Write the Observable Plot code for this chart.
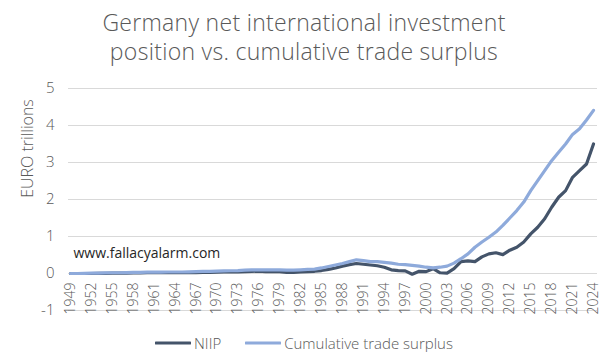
<!DOCTYPE html>
<html>
<head>
<meta charset="utf-8">
<script src="https://cdn.jsdelivr.net/npm/d3@7"></script>
<script src="https://cdn.jsdelivr.net/npm/@observablehq/plot@0.6"></script>
<style>
  html, body { margin: 0; padding: 0; background: #fff; }
  #wrap { width: 608px; height: 364px; position: relative; font-family: "Open Sans", sans-serif; }
  #title { height: 70px; text-align: center; color: #595959; font-weight: 300; font-size: 23px; letter-spacing: 0.3px; line-height: 29px; padding-top: 8px; box-sizing: border-box; white-space: nowrap; }
  #legend { display: flex; justify-content: center; align-items: center; color: #595959; font-size: 15px; font-weight: 300; height: 26px; margin-top: 0px; }
  #legend .item { display: flex; align-items: center; margin: 0 12px; }
  #legend svg { margin-right: 3px; }
</style>
</head>
<body>
<div id="wrap">
  <div id="title">Germany net international investment<br>position vs. cumulative trade surplus</div>
  <div id="chart"></div>
  <div id="legend"></div>
</div>
<script>
const years = d3.range(1949, 2025);
const niip = [
  0, 0, 0, 0, 0.005, 0.005, 0.01, 0.01, 0.01, 0.015,
  0.015, 0.02, 0.02, 0.02, 0.02, 0.02, 0.02, 0.02, 0.025, 0.03,
  0.03, 0.035, 0.04, 0.04, 0.045, 0.05, 0.055, 0.065, 0.05, 0.06,
  0.05, 0.03, 0.03, 0.04, 0.05, 0.06, 0.08, 0.11, 0.15, 0.20,
  0.24, 0.27, 0.25, 0.23, 0.21, 0.17, 0.10, 0.08, 0.07, -0.02,
  0.06, 0.05, 0.13, 0.02, 0.01, 0.13, 0.32, 0.34, 0.32, 0.45,
  0.53, 0.56, 0.51, 0.63, 0.71, 0.85, 1.07, 1.25, 1.48, 1.79,
  2.06, 2.24, 2.60, 2.78, 2.96, 3.50
];
const cumTrade = [
  0, 0, 0.005, 0.01, 0.01, 0.015, 0.02, 0.02, 0.025, 0.03,
  0.03, 0.035, 0.035, 0.035, 0.04, 0.04, 0.04, 0.045, 0.05, 0.055,
  0.06, 0.065, 0.07, 0.075, 0.08, 0.09, 0.10, 0.10, 0.10, 0.10,
  0.10, 0.09, 0.09, 0.10, 0.11, 0.12, 0.15, 0.19, 0.23, 0.27,
  0.32, 0.37, 0.35, 0.32, 0.32, 0.30, 0.28, 0.25, 0.24, 0.22,
  0.20, 0.17, 0.15, 0.17, 0.20, 0.28, 0.40, 0.53, 0.71, 0.85,
  0.98, 1.12, 1.30, 1.50, 1.70, 1.93, 2.24, 2.51, 2.78, 3.05,
  3.28, 3.50, 3.76, 3.91, 4.15, 4.41
];
const seriesNames = ["NIIP", "Cumulative trade surplus"];
const seriesColors = ["#44546a", "#8eaadb"];
const yTicks = [-1, 0, 1, 2, 3, 4, 5];
const xTicks = d3.range(1949, 2025, 3);
const yLabel = "EURO trillions";
const watermark = "www.fallacyalarm.com";

const rows = [];
years.forEach((yr, i) => {
  rows.push({year: yr, value: niip[i], series: seriesNames[0]});
  rows.push({year: yr, value: cumTrade[i], series: seriesNames[1]});
});

const chart = Plot.plot({
  width: 608,
  height: 260,
  marginTop: 18,
  marginBottom: 20,
  marginLeft: 68,
  marginRight: 11,
  style: {fontFamily: "'Open Sans', sans-serif", color: "#595959", background: "#fff"},
  x: {domain: [1949, 2024], insetLeft: 2, insetRight: 4, axis: null},
  y: {domain: [-1, 5], axis: null},
  color: {domain: seriesNames, range: seriesColors},
  marks: [
    Plot.gridY(yTicks, {stroke: "#d9d9d9", strokeOpacity: 1, strokeWidth: 1}),
    Plot.axisY(yTicks, {tickSize: 0, tickPadding: 14, fontSize: 15, fontWeight: 300, fill: "#595959", label: null, tickFormat: d => String(d)}),
    Plot.text([yLabel], {frameAnchor: "left", textAnchor: "middle", rotate: -90, dx: -41, dy: -51, fontSize: 16, fontWeight: 300, fill: "#595959"}),
    Plot.line(rows, {x: "year", y: "value", z: "series", stroke: "series", strokeWidth: 3.2, curve: "linear"}),
    Plot.text(xTicks, {x: d => d, y: () => 0, text: d => String(d), rotate: -90, textAnchor: "end", dy: 9, fontSize: 14, fontWeight: 300, fill: "#595959", letterSpacing: 0.4}),
    Plot.text([watermark], {frameAnchor: "bottom-left", textAnchor: "start", dx: 5, dy: -53, fontSize: 14, fill: "#262626"})
  ]
});
document.getElementById("chart").appendChild(chart);

const legend = document.getElementById("legend");
seriesNames.forEach((name, i) => {
  const item = document.createElement("div");
  item.className = "item";
  item.innerHTML = `<svg width="36" height="6"><line x1="1" y1="3" x2="35" y2="3" stroke="${seriesColors[i]}" stroke-width="3.2" stroke-linecap="round"/></svg><span>${name}</span>`;
  legend.appendChild(item);
});
</script>
</body>
</html>
